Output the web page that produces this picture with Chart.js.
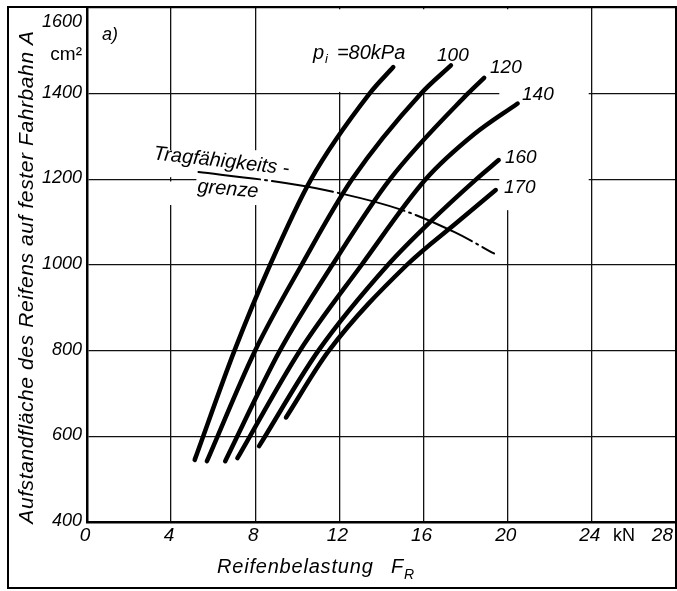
<!DOCTYPE html>
<html>
<head>
<meta charset="utf-8">
<script src="https://cdn.jsdelivr.net/npm/chart.js@4.4.1/dist/chart.umd.min.js"></script>
<style>
  html, body { margin: 0; padding: 0; background: #fff; overflow: hidden; }
  canvas { display: block; }
</style>
</head>
<body>
<canvas id="tireChart" width="677" height="591"></canvas>
<script>
// axis ticks
const loadTicks = [0, 4, 8, 12, 16, 20, 24, 28];
const areaTicks = [400, 600, 800, 1000, 1200, 1400, 1600];

// tyre inflation pressure in kPa, one curve each
const pressures = ['80', '100', '120', '140', '160', '170'];

// [load F_R in kN, contact area A in cm2]
const curve80 = [[5.12, 545], [7.01, 800], [8.7, 1000], [10.65, 1200], [13.43, 1400], [14.56, 1462]];
const curve100 = [[5.7, 542], [7.99, 800], [10.2, 1000], [12.6, 1200], [15.87, 1400], [17.3, 1466]];
const curve120 = [[6.57, 542], [9.17, 800], [11.66, 1000], [14.4, 1200], [18.1, 1400], [18.88, 1437]];
const curve140 = [[7.15, 549], [10.12, 800], [13.05, 1000], [16.1, 1200], [18.4, 1305], [20.47, 1377]];
const curve160 = [[8.18, 577], [11.0, 800], [14.3, 1000], [16.3, 1100], [18.5, 1200], [19.57, 1245]];
const curve170 = [[9.46, 644], [11.5, 800], [15.2, 1000], [17.6, 1100], [19.43, 1175]];

// Tragfaehigkeitsgrenze (load capacity limit)
const limitLine = [[5.3, 1217], [8.5, 1198], [11.3, 1175], [15.0, 1128], [17.5, 1076], [19.35, 1027]];

const fontFamily = '"Liberation Sans", Arial, sans-serif';
function font(size, style) {
    return (style || 'italic') + ' ' + size + 'px ' + fontFamily;
}

function curve(points, width, dash) {
    return {
        data: points.map(function (p) { return { x: p[0], y: p[1] }; }),
        showLine: true,
        borderColor: '#000',
        borderWidth: width,
        borderDash: dash || [],
        borderCapStyle: 'round',
        pointRadius: 0,
        cubicInterpolationMode: 'monotone',
        fill: false
    };
}

const drawing = {
    id: 'drawing',
    beforeDatasetsDraw: function (chart) {
        const ctx = chart.ctx;
        const x = chart.scales.x;
        const y = chart.scales.y;
        // places where the grid is left open for the lettering: [x0, x1, y0, y1]
        const gaps = [
            [19.6, 23.85, 1128, 1597],
            [8.25, 19.65, 1404, 1597],
            [5.2, 10.6, 1140, 1268],
            [3.8, 4.2, 1205, 1268],
            [3.8, 4.2, 1140, 1195]
        ];
        ctx.save();
        ctx.fillStyle = '#fff';
        gaps.forEach(function (g) {
            const x0 = x.getPixelForValue(g[0]);
            const x1 = x.getPixelForValue(g[1]);
            const y0 = y.getPixelForValue(g[3]);
            const y1 = y.getPixelForValue(g[2]);
            ctx.fillRect(x0, y0, x1 - x0, y1 - y0);
        });
        ctx.restore();
    },
    afterDraw: function (chart) {
        const ctx = chart.ctx;
        const x = chart.scales.x;
        const y = chart.scales.y;
        const a = chart.chartArea;
        ctx.save();
        ctx.fillStyle = '#000';
        ctx.strokeStyle = '#000';

        // outer frame
        ctx.lineWidth = 2;
        ctx.strokeRect(8, 7, a.right - 8, 581);

        // y tick labels
        ctx.font = font(18);
        ctx.textAlign = 'right';
        ctx.textBaseline = 'middle';
        areaTicks.forEach(function (v) {
            ctx.fillText(String(v), a.left - 5, Math.max(y.getPixelForValue(v) - 1, a.top + 14));
        });
        ctx.font = font(19, 'normal');
        ctx.textBaseline = 'alphabetic';
        ctx.fillText('cm\u00B2', a.left - 5, 60);

        // x tick labels
        ctx.font = font(19);
        ctx.textBaseline = 'middle';
        loadTicks.forEach(function (v, i) {
            if (i === loadTicks.length - 1) {
                ctx.textAlign = 'right';
                ctx.fillText(String(v), a.right - 3, 536);
            } else {
                ctx.textAlign = 'center';
                ctx.fillText(String(v), x.getPixelForValue(v) - 2, 536);
            }
        });
        ctx.font = font(18, 'normal');
        ctx.textAlign = 'center';
        ctx.fillText('kN', 624, 536);

        // x axis title
        ctx.textBaseline = 'alphabetic';
        ctx.textAlign = 'left';
        ctx.font = font(20);
        ctx.letterSpacing = '0.8px';
        ctx.fillText('Reifenbelastung', 217, 573);
        ctx.fillText('F', 391, 573);
        ctx.font = font(14);
        ctx.fillText('R', 404, 579);

        // y axis title
        ctx.save();
        ctx.translate(33, 277);
        ctx.rotate(-Math.PI / 2);
        ctx.font = font(21);
        ctx.letterSpacing = '0.6px';
        ctx.textAlign = 'center';
        ctx.fillText('Aufstandfl\u00E4che des Reifens auf fester Fahrbahn A', 0, 0);
        ctx.restore();
        ctx.letterSpacing = '0px';

        // panel letter
        ctx.font = font(18);
        ctx.fillText('a)', x.getPixelForValue(0.71), y.getPixelForValue(1525));

        // pressure labels
        const px = x.getPixelForValue(10.74);
        const py = y.getPixelForValue(1481);
        ctx.font = font(20);
        ctx.fillText('p', px, py);
        ctx.font = font(13);
        ctx.fillText('i', px + 12, py + 4);
        ctx.font = font(20);
        ctx.fillText('=' + pressures[0] + 'kPa', px + 24, py);

        const spots = [null, [16.64, 1476], [19.16, 1448], [20.68, 1385], [19.87, 1238], [19.82, 1168]];
        ctx.font = font(19);
        pressures.forEach(function (p, i) {
            if (!spots[i]) return;
            ctx.fillText(p, x.getPixelForValue(spots[i][0]), y.getPixelForValue(spots[i][1]));
        });

        // limit line lettering
        ctx.font = font(20);
        ctx.save();
        ctx.translate(x.getPixelForValue(3.14), y.getPixelForValue(1247));
        ctx.rotate(6.5 * Math.PI / 180);
        ctx.fillText('Tragf\u00E4higkeits -', 0, 0);
        ctx.restore();
        ctx.save();
        ctx.translate(x.getPixelForValue(5.23), y.getPixelForValue(1170));
        ctx.rotate(5 * Math.PI / 180);
        ctx.fillText('grenze', 0, 0);
        ctx.restore();

        ctx.restore();
    }
};

new Chart(document.getElementById('tireChart'), {
    type: 'scatter',
    data: {
        datasets: [
            curve(limitLine, 2, [62, 5, 2, 5]),
            curve(curve80, 4.5),
            curve(curve100, 4.5),
            curve(curve120, 4.5),
            curve(curve140, 4.5),
            curve(curve160, 4.5),
            curve(curve170, 4.5)
        ]
    },
    options: {
        responsive: false,
        animation: false,
        events: [],
        layout: {
            padding: { left: 87, right: 1, top: 8, bottom: 69 }
        },
        plugins: {
            legend: { display: false },
            tooltip: { enabled: false }
        },
        scales: {
            x: {
                type: 'linear',
                min: 0,
                max: 28,
                ticks: { stepSize: 4, display: false },
                grid: { color: '#111', lineWidth: 1.3, drawTicks: false },
                border: { display: true, color: '#000', width: 2.5 }
            },
            y: {
                type: 'linear',
                min: 400,
                max: 1600,
                ticks: { stepSize: 200, display: false },
                grid: { color: '#111', lineWidth: 1.3, drawTicks: false },
                border: { display: true, color: '#000', width: 2.5 }
            }
        }
    },
    plugins: [drawing]
});
</script>
</body>
</html>
